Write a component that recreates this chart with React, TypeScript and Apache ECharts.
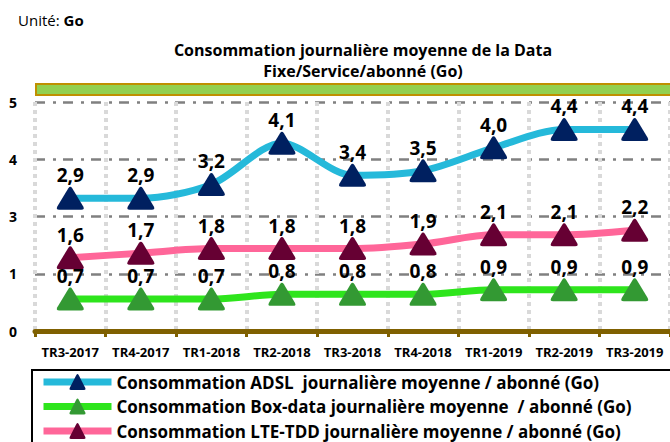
import React, { useEffect, useRef } from "react";
import * as echarts from "echarts";

const categories = ["TR3-2017", "TR4-2017", "TR1-2018", "TR2-2018", "TR3-2018", "TR4-2018", "TR1-2019", "TR2-2019", "TR3-2019"];
const adslValues = [2.9, 2.9, 3.2, 4.1, 3.4, 3.5, 4.0, 4.4, 4.4];
const boxValues = [0.7, 0.7, 0.7, 0.8, 0.8, 0.8, 0.9, 0.9, 0.9];
const lteValues = [1.6, 1.7, 1.8, 1.8, 1.8, 1.9, 2.1, 2.1, 2.2];
const seriesNames = [
  "Consommation ADSL  journalière moyenne / abonné (Go)",
  "Consommation Box-data journalière moyenne  / abonné (Go)",
  "Consommation LTE-TDD journalière moyenne / abonné (Go)",
];
const titleLines = ["Consommation journalière moyenne de la Data", "Fixe/Service/abonné (Go)"];

const FONT = "'Open Sans', 'Noto Sans', sans-serif";
const TRI = "path://M43,8 Q50,-3 57,8 L97,76 Q103,88 90,88 L10,88 Q-3,88 3,76 Z";

function fmt(v: number) {
  return v.toFixed(1).replace(".", ",");
}

function makeSeries(name: string, data: number[], lineColor: string, markerColor: string) {
  return {
    type: "line",
    name,
    data,
    smooth: 0.3,
    symbol: TRI,
    symbolSize: [27, 23],
    lineStyle: { color: lineColor, width: 7 },
    itemStyle: { color: markerColor },
    label: {
      show: true,
      position: "top",
      distance: 2,
      formatter: (p: any) => fmt(p.value),
      fontFamily: FONT,
      fontWeight: "bold",
      fontSize: 19,
      color: "#000",
    },
  };
}

export default function App() {
  const ref = useRef<HTMLDivElement>(null);
  useEffect(() => {
    const chart = echarts.init(ref.current!, null, { renderer: "svg" });
    chart.setOption({
      animation: false,
      backgroundColor: "#fff",
      grid: { left: 35, right: -5, top: 102, bottom: 111, containLabel: false },
      xAxis: {
        type: "category",
        data: categories,
        boundaryGap: true,
        axisLine: { show: true, lineStyle: { color: "#7f6000", width: 5 } },
        axisTick: { show: true, length: 6, lineStyle: { color: "#7f6000", width: 3 } },
        splitLine: { show: true, lineStyle: { color: "#d9d9d9", width: 4, type: [4, 4] } },
        axisLabel: {
          interval: 0,
          hideOverlap: false,
          margin: 14,
          fontFamily: FONT,
          fontWeight: "bold",
          fontSize: 13,
          color: "#000",
        },
      },
      yAxis: {
        type: "value",
        min: 0,
        max: 5,
        interval: 1.25,
        axisLine: { show: false },
        axisTick: { show: false },
        splitLine: { show: true, lineStyle: { color: "#808080", width: 2.5, type: [10, 8, 3, 7] } },
        axisLabel: {
          margin: 18,
          fontFamily: FONT,
          fontWeight: "bold",
          fontSize: 14,
          color: "#000",
          formatter: (v: number) => String(Math.round(v)),
        },
      },
      legend: {
        orient: "vertical",
        left: 40,
        top: 372,
        height: 90,
        padding: 0,
        itemWidth: 68,
        itemHeight: 20,
        itemGap: 4.5,
        lineStyle: { width: 7 },
        textStyle: { fontFamily: FONT, fontWeight: "bold", fontSize: 17, lineHeight: 20, color: "#000" },
        data: seriesNames,
      },
      graphic: [
        {
          type: "text",
          left: 18,
          top: 12,
          style: {
            text: "{a|Unité: }{b|Go}",
            rich: {
              a: { fontFamily: FONT, fontSize: 15, color: "#000" },
              b: { fontFamily: FONT, fontSize: 15, fontWeight: "bold", color: "#000" },
            },
          },
        },
        {
          type: "text",
          x: 363,
          y: 39,
          style: {
            text: titleLines.join("\n"),
            fontFamily: FONT,
            fontWeight: "bold",
            fontSize: 16,
            lineHeight: 21,
            textAlign: "center",
            fill: "#000",
          },
        },
        {
          type: "rect",
          shape: { x: 36, y: 84, width: 645, height: 11 },
          style: { fill: "#92d050", stroke: "#bf9000", lineWidth: 2 },
        },
        {
          type: "rect",
          shape: { x: 32, y: 370, width: 650, height: 80 },
          style: { fill: "none", stroke: "#000", lineWidth: 2 },
        },
      ],
      series: [
        makeSeries(seriesNames[0], adslValues, "#25b9da", "#002060"),
        makeSeries(seriesNames[1], boxValues, "#2ee51c", "#339933"),
        makeSeries(seriesNames[2], lteValues, "#ff6699", "#660033"),
      ],
    });
    return () => chart.dispose();
  }, []);
  return <div ref={ref} style={{ position: "fixed", left: 0, top: 0, width: 670, height: 442 }} />;
}
